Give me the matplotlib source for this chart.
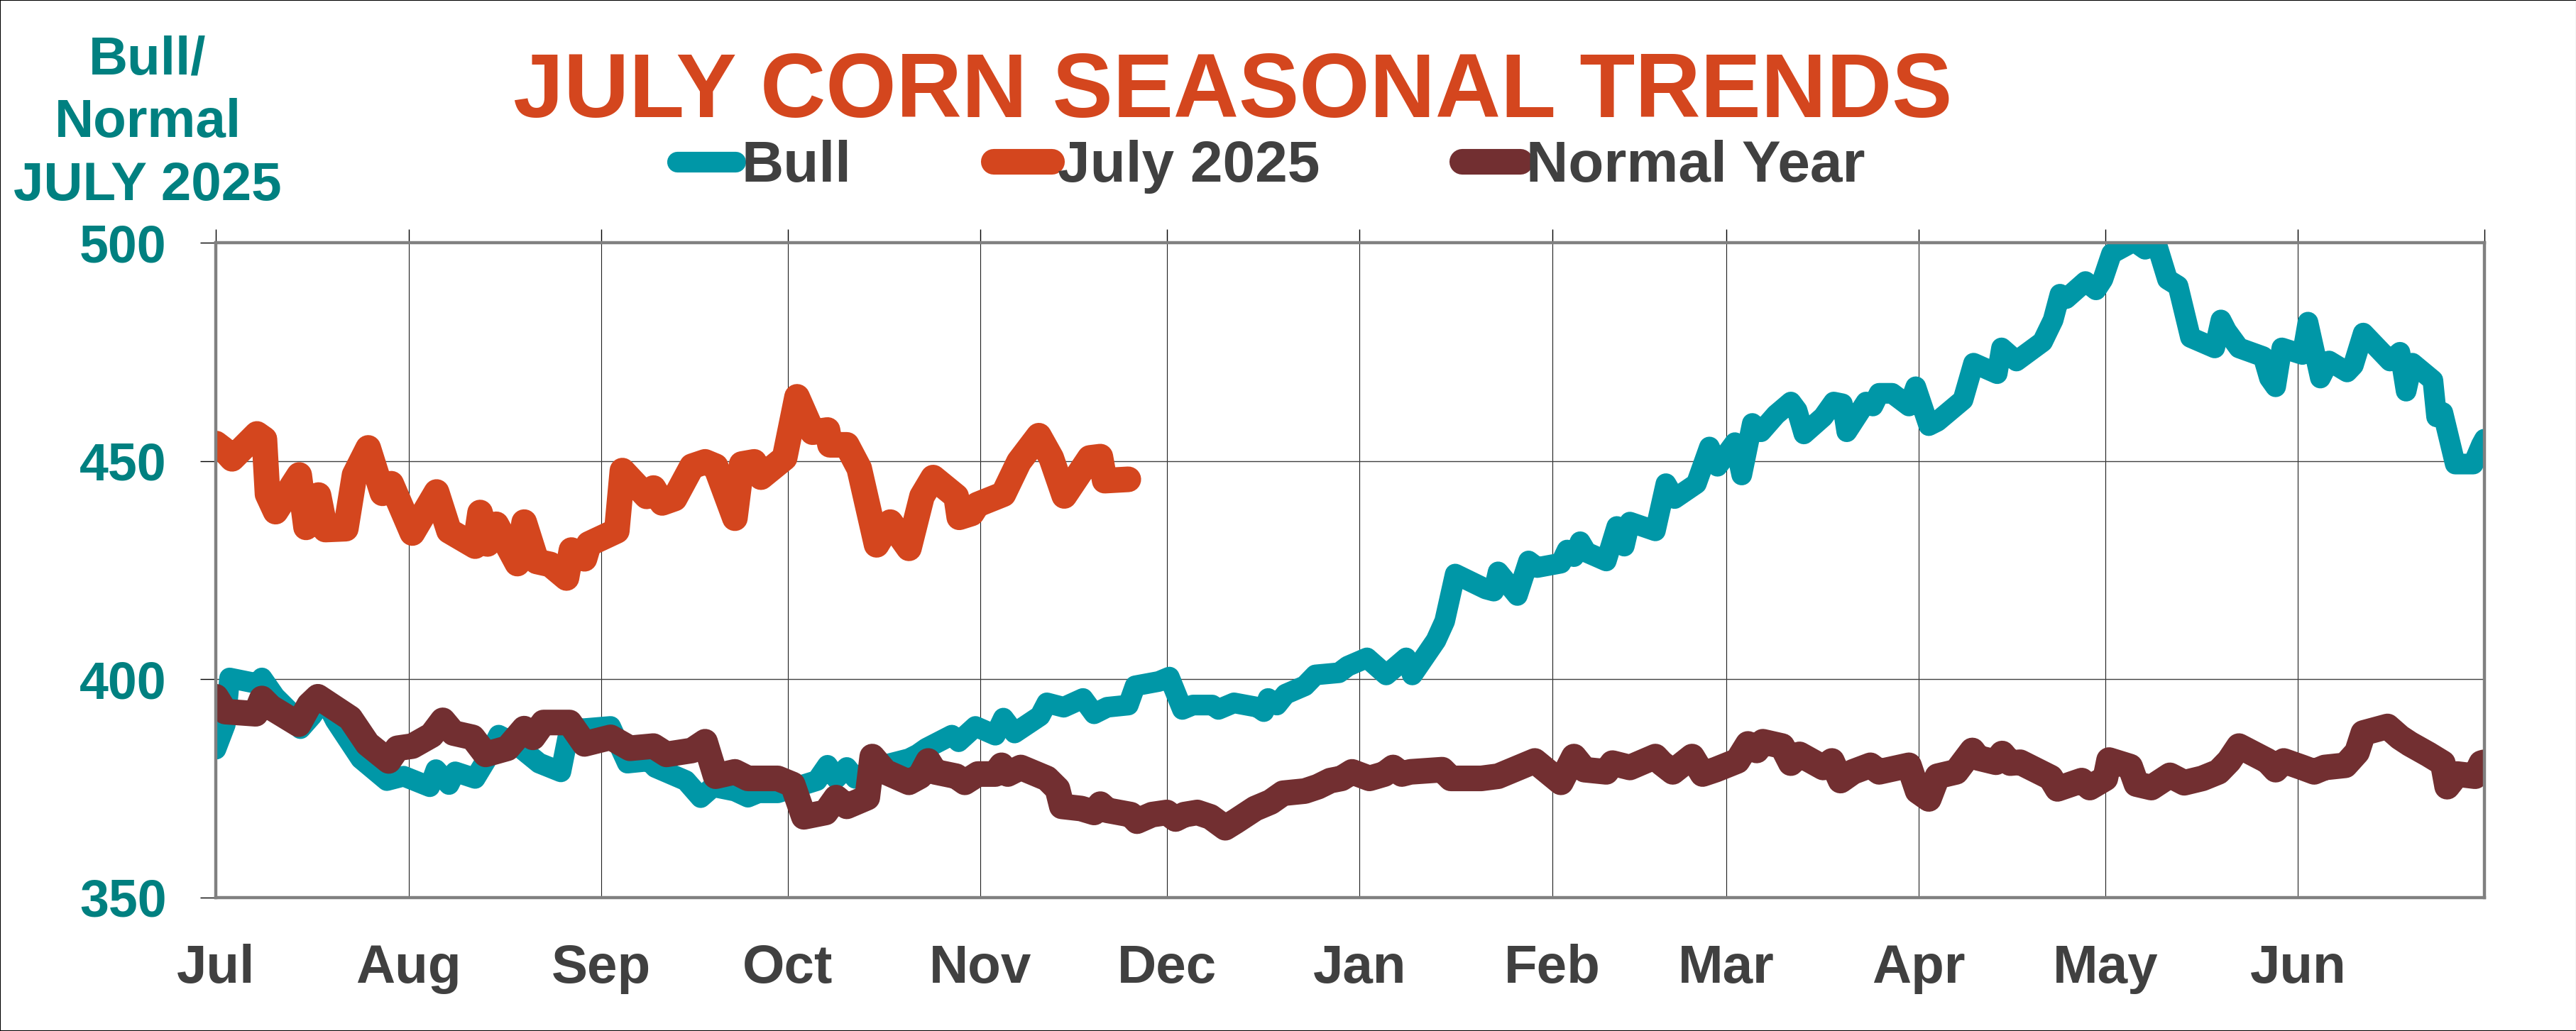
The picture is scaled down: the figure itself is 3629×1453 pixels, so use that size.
import numpy as np
import matplotlib
matplotlib.use('Agg')
import matplotlib.pyplot as plt
from matplotlib.patches import Rectangle

# =========================
# DATA (days after Jul 1 2025, cents/bu)
# =========================
bull_days = [0, 1.5, 2.2, 6.7, 7.4, 9.5, 11.9, 13.6, 15.4, 17.4, 19.2, 23.3, 27.5, 30.2, 34.4,
             35.4, 37.5, 38.5, 41.7, 43.4, 45.5, 48.2, 52, 55.5, 56.9, 59.3, 63.5, 66.2, 69.7,
             70.7, 75.6, 78, 80, 83.5, 85.6, 87.3, 90.4, 96.7, 98.4, 99.8, 101.5, 102.9, 106,
             111.5, 112.9, 114.3, 118.4, 119.5, 122.2, 125.4, 126.7, 128.5, 132.6, 133.7, 136.4,
             139.5, 141.3, 143.4, 146.8, 147.9, 151.7, 153.4, 155.5, 157.2, 160.3, 161.3, 163.8,
             167.6, 168.6, 169.3, 170.7, 172.1, 175.2, 176.9, 180.7, 182.1, 185.2, 188.3, 191.5,
             192.5, 196.3, 197.7, 199.4, 204.3, 205.6, 206.3, 209.4, 211.2, 212.6, 216.4, 217.4,
             218.5, 219.5, 220.5, 223.7, 225.4, 226.6, 227.5, 231.6, 233.3, 234.7, 238.2, 239.2,
             240.3, 241.6, 244.4, 245.5, 247.2, 248.6, 251, 253.4, 254.4, 255.5, 258.6, 260.3,
             261.7, 262.4, 265.5, 266.6, 267.6, 269.7, 272.4, 273.5, 275.6, 277, 281.1, 282.8,
             286.6, 287.3, 289.7, 293.9, 295.6, 296.7, 297.7, 300.8, 302.5, 303.6, 305, 308.6,
             310.4, 312.3, 314, 315.7, 317.7, 321.6, 322.6, 323.5, 325.5, 329.4, 330.4, 331.4,
             332.4, 335.7, 336.6, 338.6, 340, 342.9, 343.9, 345.5, 349.8, 351.4, 352.4, 353.4,
             356.7, 357.3, 358.3, 360.3, 363.2, 364.5, 365]
bull_vals = [384, 389.6, 400.3, 399, 400.3, 396, 392.6, 388.7, 391.6, 395.6, 390.6, 381.8, 376.8,
             377.8, 375.4, 379.3, 375.9, 378.8, 377.3, 381.3, 387.2, 385.2, 380.8, 378.8, 388.7,
             388.7, 389.2, 380.8, 381.3, 379.8, 376.8, 372.9, 375.4, 374.4, 373, 374, 374, 376.8,
             380.3, 377.3, 379.8, 377.3, 379.8, 381.8, 382.8, 384.2, 387.2, 385.7, 389.2, 387.2,
             391.1, 387.7, 391.6, 394.6, 393.6, 395.6, 392.1, 393.6, 394.1, 398.5, 399.5, 400.5,
             393.1, 394.1, 394.1, 393.1, 394.6, 393.6, 392.6, 395.6, 394.1, 396.6, 398.5, 401,
             401.5, 403, 404.9, 401, 404.9, 401, 408.9, 413.3, 424.1, 420.7, 420.2, 424.6, 419.2,
             427.1, 425.6, 426.6, 429.6, 428.1, 431.5, 429.1, 427.1, 435, 430.5, 436, 434, 444.8,
             441.4, 444.8, 448.8, 453.2, 448.8, 454.2, 446.8, 458.6, 456.7, 460.6, 463.5, 461.6,
             456.2, 460.1, 463.5, 463.1, 456.7, 463.5, 462.6, 465.5, 465.5, 462.6, 467, 458.1,
             459.1, 464, 472.4, 470, 475.9, 472.9, 477.3, 482.3, 488.2, 487.2, 491.1, 489.2,
             491.6, 497.5, 500.3, 498.5, 499.5, 491.6, 490.1, 478.3, 475.9, 482.3, 479.8, 475.9,
             473.9, 469, 467, 475.9, 474.4, 481.8, 469, 472.9, 470.4, 471.9, 479.3, 472.9, 474.9,
             466, 472.4, 468.5, 460.1, 461.1, 449.3, 449.3, 453.7, 455]

july_days = [0, 1.2, 2.6, 6.6, 7.8, 8.3, 9.6, 13.4, 14.5, 16.5, 17.6, 20.9, 22.3, 24.5, 26.8, 28.2,
             31.6, 35.5, 37.5, 41.7, 42.5, 43.7, 45.1, 48.5, 49.6, 51.6, 53.8, 56.4, 57.2, 59.3, 60,
             64.5, 65.4, 69.3, 70.4, 71.8, 73.8, 76.6, 78.7, 80.4, 83.5, 84.6, 86.6, 87.7, 91.5,
             93.5, 96, 98.4, 98.8, 101.5, 103.5, 106.3, 108.5, 111.5, 113.6, 115.4, 119.1, 119.6,
             121.6, 122.5, 126.7, 129.2, 132.4, 134.4, 136.5, 140.6, 142.3, 143, 146.8]
july_vals = [454, 452.7, 450.5, 456.2, 455, 442.4, 438.4, 446.8, 434.8, 442.2, 434.3, 434.5, 446.8,
             453, 442.6, 444.8, 433.5, 442.9, 434, 430.5, 438.2, 431, 435.5, 426.5, 436, 427, 426.3,
             423.2, 429.6, 427.6, 431, 434, 447.8, 441.9, 443.8, 440.4, 441.4, 448.8, 449.8, 448.8,
             436.9, 449.3, 449.8, 446.3, 450.7, 464.7, 456.6, 457.1, 453.7, 453.7, 448.3, 430.8,
             436, 430, 441.9, 446.2, 441.9, 437.1, 438, 440, 442.4, 449.8, 455.8, 450.7, 442,
             450.7, 451, 445.5, 445.8]

normal_days = [0, 1.5, 6.4, 7.4, 8.8, 13.3, 15, 16.4, 21.6, 24.4, 27.8, 29.2, 31.6, 34.7, 36.5,
               38.2, 41.3, 43.4, 46.9, 49.6, 51, 52.7, 56.9, 59.3, 63.5, 66.6, 70.4, 72.5, 76.6,
               78.7, 80.4, 83.5, 85.6, 90.4, 92.8, 94.6, 98.1, 99.8, 101.5, 104.8, 105.6, 107.7,
               111.5, 113.3, 114.6, 115.7, 119.1, 120.5, 122.6, 125.4, 126.4, 127.4, 129.5, 133.7,
               135.4, 136.1, 139.2, 141.3, 142.3, 143.4, 147.2, 148.2, 150.6, 153, 154.4, 155.8,
               157.9, 160, 162.4, 164.1, 167.2, 169.7, 171.7, 175.2, 177.3, 179.3, 181.1, 182.8,
               185.6, 188, 189.4, 190.8, 192.2, 197.3, 198.7, 203.6, 206.3, 210.5, 212.2, 216.4,
               218.5, 220.2, 223.7, 224.7, 227.5, 231.6, 232.6, 234.4, 237.5, 239.2, 241.3, 244.8,
               246.5, 247.9, 248.9, 252, 253.4, 254.8, 258.6, 260, 261.4, 263.4, 266.2, 267.6,
               272.4, 273.8, 275.6, 277, 280, 282.6, 283.5, 286.4, 287.4, 288.7, 290.3, 295.2,
               296.3, 300.2, 301.5, 304, 304.6, 308, 309, 311.4, 314.4, 316.7, 319.6, 322.2, 323.9,
               325.5, 330.1, 331.4, 332.7, 335.7, 337.6, 339.3, 342.6, 344.5, 345.5, 349.4, 351.4,
               353, 356, 358.3, 359, 360.6, 363.5, 364.5, 365]
normal_vals = [396, 392.6, 392.1, 395.6, 393.6, 389.7, 394.1, 396, 391.1, 385.2, 381.3, 384.2,
               384.7, 387.2, 390.6, 387.7, 386.7, 382.8, 384.2, 388.7, 386.7, 390.1, 390.1, 385.2,
               386.7, 384.2, 384.7, 382.8, 383.7, 385.7, 377.8, 378.8, 377.3, 377.3, 375.9, 368.5,
               369.5, 372.9, 370.9, 372.9, 382.3, 378.8, 376.4, 377.8, 381.3, 378.8, 377.8, 376.4,
               378.3, 378.3, 380.3, 378.3, 379.8, 377.3, 374.9, 370.9, 370.4, 369.5, 371.4, 370,
               369, 367.5, 369, 369.5, 368, 369, 369.5, 368.5, 366, 367.5, 370.4, 371.9, 373.9,
               374.4, 375.4, 376.8, 377.3, 378.8, 377.3, 378.3, 379.8, 378.3, 378.8, 379.3, 377.3,
               377.3, 377.8, 380.3, 381.3, 376.4, 382.3, 379.3, 378.8, 380.8, 379.8, 382.3, 380.8,
               378.8, 382.3, 378.3, 379.3, 381.3, 385.2, 383.7, 385.7, 384.7, 380.8, 382.8, 379.8,
               381.3, 376.8, 378.8, 380.3, 378.8, 380.3, 374.4, 372.6, 377.8, 378.8, 383.7, 382,
               381, 383, 380.8, 381, 377.5, 374.9, 376.8, 375.2, 377.3, 381.5, 380, 376, 375.2, 378,
               376.3, 377.3, 378.8, 381.3, 384.7, 381.3, 379.3, 381.3, 379.8, 378.8, 379.8, 380.3,
               383.3, 387.7, 389.2, 386.7, 385.2, 382.8, 380.8, 375.4, 378.3, 377.8, 380.8, 381]

month_labels = ['Jul', 'Aug', 'Sep', 'Oct', 'Nov', 'Dec', 'Jan', 'Feb', 'Mar', 'Apr', 'May', 'Jun', '']
y_ticks = [350, 400, 450, 500]

# =========================
# STYLE
# =========================
TEAL = '#0097a7'
ORANGE = '#d4461e'
BROWN = '#722f31'
LABEL_TEAL = '#008080'
GRAY_TXT = '#404040'

plt.rcParams['font.family'] = ['Liberation Sans', 'DejaVu Sans']
plt.rcParams['font.weight'] = 'bold'

fig = plt.figure(figsize=(36.3, 14.53), dpi=100)
ax = fig.add_axes([0.0838, 0.1294, 0.8804, 0.6352])

line_kw = dict(solid_capstyle='round', solid_joinstyle='round')
ax.plot(bull_days, bull_vals, color=TEAL, lw=21, label='Bull', **line_kw)
ax.plot(july_days, july_vals, color=ORANGE, lw=26, label='July 2025', **line_kw)
ax.plot(normal_days, normal_vals, color=BROWN, lw=26, label='Normal Year', **line_kw)

# month ticks at calendar month starts
months = np.arange('2025-07', '2026-08', dtype='datetime64[M]')
month_pos = (months.astype('datetime64[D]') - np.datetime64('2025-07-01')).astype(int)
ax.set_xlim(0, 365)
ax.set_ylim(350, 500)
ax.set_xticks(month_pos)
ax.set_xticklabels(month_labels)
ax.set_yticks(y_ticks)

ax.grid(True, axis='x', color='#202020', lw=0.8)
ax.grid(True, axis='y', color='#404040', lw=1.0)
for s in ax.spines.values():
    s.set_color('#808080')
    s.set_linewidth(3.2)

ax.tick_params(axis='x', top=True, bottom=False, direction='out', length=14, width=1,
               color='black', pad=33, labelsize=55, labelcolor=GRAY_TXT)
ax.tick_params(axis='y', left=True, direction='out', length=16, width=1, color='black',
               pad=34, labelsize=53, labelcolor=LABEL_TEAL)
for lab in ax.get_xticklabels() + ax.get_yticklabels():
    lab.set_fontweight('bold')

# title, y label block, legend
fig.text(0.4783, 0.8865, 'JULY CORN SEASONAL TRENDS', ha='center', va='baseline',
         fontsize=92, fontweight='bold', color=ORANGE)
fig.text(0.0573, 0.8806, 'Bull/\nNormal\nJULY 2025', ha='center', va='center',
         multialignment='center', fontsize=55, fontweight='bold', color=LABEL_TEAL,
         linespacing=1.32)

leg = fig.legend(loc='center', bbox_to_anchor=(0.4934, 0.838), ncol=3, frameon=False,
                 fontsize=59, handlelength=1.0, handletextpad=0.1, columnspacing=2.45,
                 borderpad=0)
for t in leg.get_texts():
    t.set_color(GRAY_TXT)
    t.set_fontweight('bold')
for h in leg.get_lines():
    h.set_solid_capstyle('round')

fig.patches.append(Rectangle((0, 0), 1, 1, transform=fig.transFigure, fill=False,
                             edgecolor='black', lw=1.5))

fig.savefig('out.png', dpi=100, facecolor='white')
